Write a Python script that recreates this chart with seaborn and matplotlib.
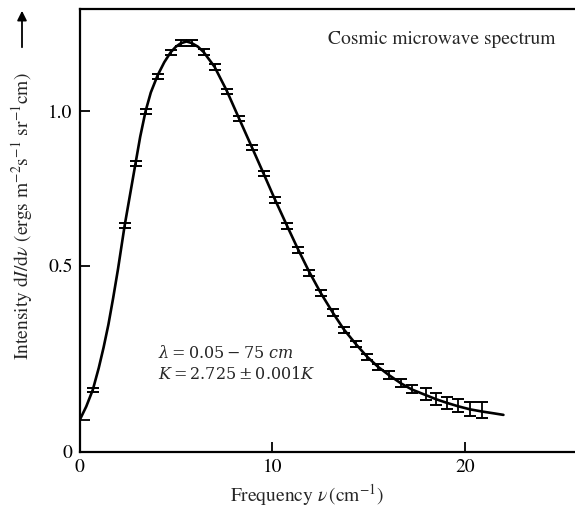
import numpy as np
import pandas as pd
import matplotlib
matplotlib.use("Agg")
import matplotlib.pyplot as plt
import seaborn as sns

freq_obs = [0.69, 2.34, 2.91, 3.43, 4.05, 4.73, 5.25, 5.82, 6.44, 7.01, 7.64,
            8.26, 8.94, 9.56, 10.13, 10.75, 11.32, 11.90, 12.52, 13.14, 13.71,
            14.34, 14.91, 15.48, 16.05, 16.68, 17.25, 17.97, 18.49, 19.06,
            19.64, 20.26, 20.88]
int_obs = [0.099, 0.629, 0.832, 1.000, 1.112, 1.189, 1.220, 1.220, 1.191,
           1.143, 1.064, 0.976, 0.883, 0.798, 0.712, 0.628, 0.551, 0.477,
           0.412, 0.349, 0.293, 0.247, 0.205, 0.173, 0.147, 0.121, 0.102,
           0.086, 0.069, 0.057, 0.047, 0.037, 0.034]
err_obs = [0.006, 0.008, 0.008, 0.008, 0.008, 0.008, 0.009, 0.009, 0.009,
           0.009, 0.009, 0.009, 0.009, 0.009, 0.009, 0.009, 0.009, 0.009,
           0.010, 0.010, 0.010, 0.010, 0.010, 0.011, 0.012, 0.012, 0.013,
           0.019, 0.019, 0.020, 0.021, 0.023, 0.027]

# Curva ajustada (cuerpo negro)
freq_fit = [0, 0.35, 0.69, 1.0, 1.25, 1.5, 1.75, 2.0, 2.34, 2.91, 3.15,
            3.43, 3.7, 4.05, 4.4, 4.73, 5.0, 5.25, 5.55, 5.82, 6.15, 6.44,
            7.01, 7.64, 8.26, 8.94, 9.56, 10.13, 10.75, 11.32, 11.90, 12.52,
            13.14, 13.71, 14.34, 14.91, 15.48, 16.05, 16.68, 17.25, 17.97,
            18.49, 19.06, 19.64, 20.26, 20.88, 21.5, 22.0]
int_fit = [0, 0.045, 0.099, 0.170, 0.236, 0.310, 0.397, 0.490, 0.629,
           0.832, 0.917, 1.000, 1.060, 1.115, 1.158, 1.190, 1.208, 1.219,
           1.225, 1.220, 1.208, 1.191, 1.143, 1.066, 0.979, 0.884, 0.797,
           0.716, 0.632, 0.556, 0.483, 0.412, 0.349, 0.295, 0.247, 0.207,
           0.174, 0.147, 0.12, 0.10, 0.082, 0.069, 0.057, 0.046, 0.036,
           0.029, 0.023, 0.018]

x_ticks = [0, 10, 20]
y_ticks = [-0.101, 0, 0.5, 1.0]
y_tick_labels = ["0", "", "0.5", "1.0"]

sns.set_style("ticks")
plt.rcParams["font.family"] = ["STIXGeneral", "DejaVu Sans"]
plt.rcParams["mathtext.fontset"] = "stix"

df_fit = pd.DataFrame({"freq": freq_fit, "intensity": int_fit})

fig = plt.figure(figsize=(5.75, 5.09), dpi=100)
ax = fig.add_axes([79.5 / 575, 57.3 / 509, (578 - 79.5) / 575, 442.7 / 509])

sns.lineplot(data=df_fit, x="freq", y="intensity", ax=ax, color="black",
             linewidth=1.9)
ax.errorbar(freq_obs, int_obs, yerr=err_obs, fmt="none", ecolor="black",
            elinewidth=1.3, capsize=4.5, capthick=1.4)

ax.set_xlim(0, (578 - 80) / 19.25)
ax.set_ylim(-0.101, 1.330)
ax.set_xticks(x_ticks)
ax.set_xticklabels([str(t) for t in x_ticks])
ax.set_yticks(y_ticks)
ax.set_yticklabels(y_tick_labels)
ax.tick_params(direction="in", length=7, width=1.3, labelsize=14, pad=5,
               colors="black")
for s in ax.spines.values():
    s.set_linewidth(1.6)
    s.set_color("black")

ax.set_xlabel(r"Frequency $\nu\,$(cm$^{-1}$)", fontsize=14)
ax.xaxis.set_label_coords(0.456, -0.068)
ax.set_ylabel(r"Intensity d$I$/d$\nu$ (ergs m$^{-2}$s$^{-1}$ sr$^{-1}$cm)",
              fontsize=14)
ax.yaxis.set_label_coords(-0.089, 0.532)

ax.annotate("", xy=(22 / 575, 1 - 8 / 509), xycoords="figure fraction",
            xytext=(22 / 575, 1 - 50 / 509), textcoords="figure fraction",
            arrowprops=dict(arrowstyle="-|>", color="black", lw=1.3,
                            mutation_scale=14))

ax.text(0.498, 0.932, "Cosmic microwave spectrum", transform=ax.transAxes,
        fontsize=14, va="center", ha="left")
ax.text(0.158, 0.2, r"$\lambda = 0.05 - 75\ cm$" + "\n" + r"$K = 2.725 \pm 0.001K$",
        transform=ax.transAxes, fontsize=11.5, va="center", ha="left",
        linespacing=1.25, math_fontfamily="dejavuserif")

fig.savefig("out.png", dpi=100)
